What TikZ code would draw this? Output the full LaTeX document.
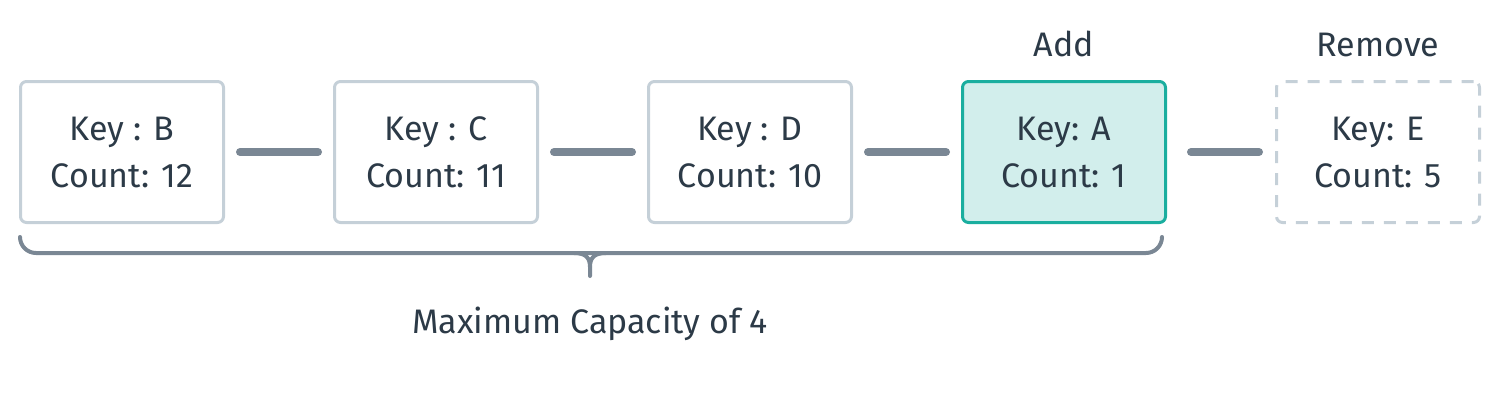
\documentclass[tikz,border=0pt]{standalone}
\usepackage{fontspec}
\setmainfont{Fira Sans}
\definecolor{txt}{HTML}{2C3A47}
\definecolor{boxline}{HTML}{C5D0D8}
\definecolor{conncol}{HTML}{7A8794}
\definecolor{teal}{HTML}{1AAE9F}
\definecolor{tealfill}{HTML}{D2EEEC}
\tikzset{
  cell/.style={draw=boxline, line width=3pt, rounded corners=6pt, minimum width=203pt, minimum height=141pt, inner sep=0pt, align=center, text=txt, font=\fontsize{34}{47}\selectfont},
  addcell/.style={cell, draw=teal, fill=tealfill},
  remcell/.style={cell, dash pattern=on 12pt off 10pt},
  conn/.style={draw=conncol, line width=8pt, line cap=round},
  lbl/.style={text=txt, font=\fontsize{34}{40}\selectfont, inner sep=0pt},
  brace/.style={draw=conncol, line width=4pt, line cap=round}
}
\begin{document}
\begin{tikzpicture}[x=1pt,y=-1pt]
\useasboundingbox (0,0) rectangle (1500,400);
\node[cell] (b) at (122,152) {Key : B\\Count: 12};
\node[cell] (c) at (436,152) {Key : C\\Count: 11};
\node[cell] (d) at (750,152) {Key : D\\Count: 10};
\node[addcell] (a) at (1064,152) {Key: A\\Count: 1};
\node[remcell] (e) at (1378,152) {Key: E\\Count: 5};
\draw[conn, shorten <=15pt, shorten >=15pt] (b.east) -- (c.west);
\draw[conn, shorten <=15pt, shorten >=15pt] (c.east) -- (d.west);
\draw[conn, shorten <=15pt, shorten >=15pt] (d.east) -- (a.west);
\draw[conn, shorten <=24pt, shorten >=16pt] (a.east) -- (e.west);
\node[lbl, anchor=base] (addl) at (1064,56) {Add};
\node[lbl, anchor=base] (reml) at (1378,56) {Remove};
\draw[brace, rounded corners=16pt] (20,237) -- (20,253) -- (1162,253) -- (1162,237);
\draw[brace] (574,253) .. controls (586,253) and (590,258) .. (590,267) -- (590,276);
\draw[brace] (606,253) .. controls (594,253) and (590,258) .. (590,267);
\node[lbl, anchor=base] (cap) at (590,333) {Maximum Capacity of 4};
\end{tikzpicture}
\end{document}
